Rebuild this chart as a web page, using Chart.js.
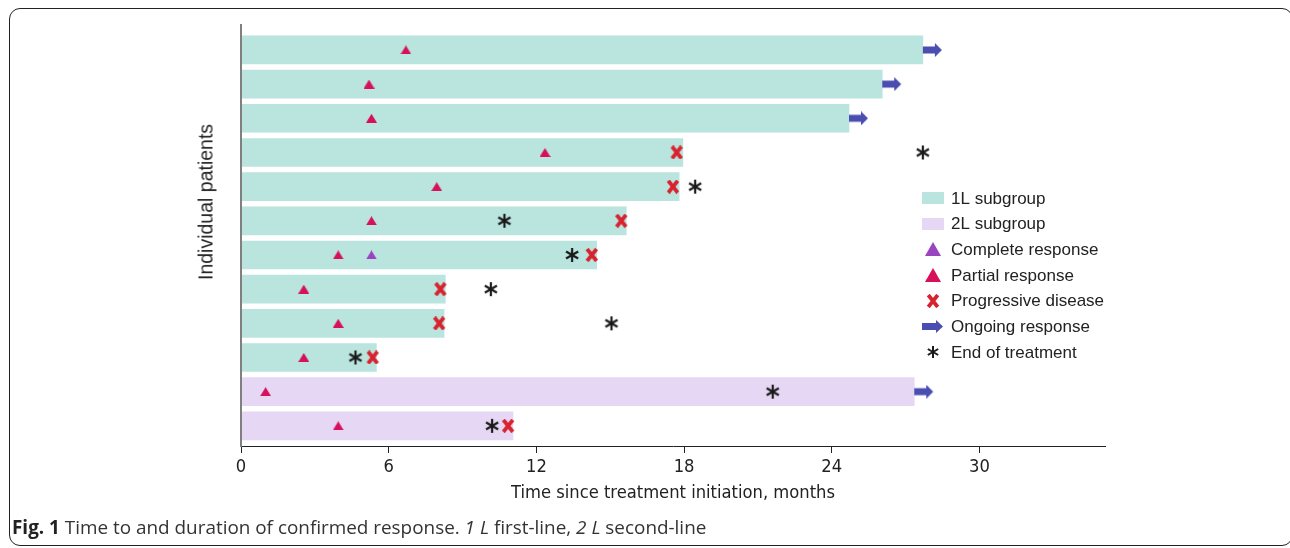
<!DOCTYPE html>
<html>
<head>
<meta charset="utf-8">
<title>Time to and duration of confirmed response</title>
<script src="https://cdn.jsdelivr.net/npm/chart.js@4.4.1/dist/chart.umd.min.js"></script>
<style>
  body { margin: 0; background: #fff; }
  #wrap { position: relative; width: 1290px; height: 548px; overflow: hidden; }
  #frame {
    position: absolute; left: 9px; top: 8px; width: 1282px; height: 536px;
    border: 1.5px solid #222; border-radius: 11px;
  }
  #chart-box { position: absolute; left: 0; top: 0; width: 1290px; height: 548px; }
  #ytitle {
    position: absolute; left: 206px; top: 202px;
    transform: translate(-50%, -50%) rotate(-90deg);
    font: 19.5px "Liberation Sans", Arial, sans-serif; color: #222; white-space: nowrap;
  }
  #caption {
    position: absolute; left: 12px; top: 514px;
    font: 18.9px "Open Sans", sans-serif; color: #333; white-space: nowrap;
  }
  #caption b { color: #222; }
</style>
</head>
<body>
<div id="wrap">
  <div id="frame"></div>
  <div id="chart-box"><canvas id="responseChart"></canvas></div>
  <div id="ytitle">Individual patients</div>
  <div id="caption"><b>Fig. 1</b> Time to and duration of confirmed response. <i>1 L</i> first-line, <i>2 L</i> second-line</div>
</div>
<script>
// Patients from top to bottom
const rows = [12, 11, 10, 9, 8, 7, 6, 5, 4, 3, 2, 1];
const subgroup = ["1L", "1L", "1L", "1L", "1L", "1L", "1L", "1L", "1L", "1L", "2L", "2L"];
const responseEnd = [27.7, 26.05, 24.7, 17.95, 17.8, 15.65, 14.45, 8.3, 8.25, 5.5, 27.35, 11.05];
const partialResponse = [6.7, 5.2, 5.3, 12.35, 7.95, 5.3, 3.95, 2.55, 3.95, 2.55, 1.0, 3.95];
const completeResponse = [null, null, null, null, null, null, 5.3, null, null, null, null, null];
const progressiveDisease = [null, null, null, 17.7, 17.55, 15.45, 14.25, 8.1, 8.05, 5.35, null, 10.85];
const ongoingResponse = [27.7, 26.05, 24.7, null, null, null, null, null, null, null, 27.35, null];
const endOfTreatment = [null, null, null, 27.7, 18.45, 10.7, 13.45, 10.15, 15.05, 4.65, 21.6, 10.2];
const xTicks = [0, 6, 12, 18, 24, 30];
const legendLabels = ["1L subgroup", "2L subgroup", "Complete response", "Partial response",
  "Progressive disease", "Ongoing response", "End of treatment"];

const COL_1L = "#bae4de";
const COL_2L = "#e6d7f5";
const COL_PR = "#d6105a";
const COL_CR = "#9a45bf";
const COL_PD = "#d8232f";
const COL_ARROW = "#4a4eb0";
const COL_EOT = "#1b1b1b";

// small canvases used as point styles
function icon(w, h, draw) {
  const c = document.createElement("canvas");
  c.width = w;
  c.height = h;
  draw(c.getContext("2d"), w, h);
  return c;
}
function triangle(color, w, h) {
  return icon(w, h, (g) => {
    g.fillStyle = color;
    g.beginPath();
    g.moveTo(w / 2, 0);
    g.lineTo(w, h);
    g.lineTo(0, h);
    g.closePath();
    g.fill();
  });
}
function cross(size, lw) {
  return icon(size + 2, size + 2, (g, w, h) => {
    g.strokeStyle = COL_PD;
    g.lineWidth = lw;
    g.lineCap = "butt";
    const a = (w - size) / 2 + lw / 3, b = w - a;
    g.beginPath();
    g.moveTo(a, 1); g.lineTo(b, h - 1);
    g.moveTo(b, 1); g.lineTo(a, h - 1);
    g.stroke();
  });
}
function asterisk(size, lw) {
  return icon(size + 2, size + 2, (g, w, h) => {
    g.strokeStyle = COL_EOT;
    g.lineWidth = lw;
    const r = size / 2;
    [90, 30, 150].forEach((deg) => {
      const a = deg * Math.PI / 180;
      g.beginPath();
      g.moveTo(w / 2 - Math.cos(a) * r, h / 2 - Math.sin(a) * r);
      g.lineTo(w / 2 + Math.cos(a) * r, h / 2 + Math.sin(a) * r);
      g.stroke();
    });
  });
}
// arrow starts at the centre of its canvas so it begins at the bar end
function arrow(len, hh, sh, offset) {
  return icon(offset + len + 1, hh, (g, w, h) => {
    const x0 = offset, head = 7;
    g.fillStyle = COL_ARROW;
    g.beginPath();
    g.moveTo(x0, h / 2 - sh / 2);
    g.lineTo(x0 + len - head, h / 2 - sh / 2);
    g.lineTo(x0 + len - head, 0);
    g.lineTo(x0 + len, h / 2);
    g.lineTo(x0 + len - head, h);
    g.lineTo(x0 + len - head, h / 2 + sh / 2);
    g.lineTo(x0, h / 2 + sh / 2);
    g.closePath();
    g.fill();
  });
}
function swatch(color) {
  return icon(22, 12, (g, w, h) => { g.fillStyle = color; g.fillRect(0, 0, w, h); });
}

const prIcon = triangle(COL_PR, 11, 9);
const crIcon = triangle(COL_CR, 11, 9);
const pdIcon = cross(12, 3.8);
const eotIcon = asterisk(14, 2.2);
const arrowIcon = arrow(19, 14, 7, 20);

const legendIcons = [swatch(COL_1L), swatch(COL_2L), triangle(COL_CR, 16, 14), triangle(COL_PR, 16, 14),
  cross(12, 3.8), arrow(21, 13, 7, 0), asterisk(12, 2)];

function points(arr) {
  return arr.map((v, i) => (v == null ? null : { x: v, y: rows[i] })).filter(Boolean);
}

const legendPlugin = {
  id: "patientLegend",
  afterDraw(chart) {
    const ctx = chart.ctx;
    ctx.save();
    ctx.font = "17px 'Liberation Sans', Arial, sans-serif";
    ctx.fillStyle = "#222";
    ctx.textBaseline = "middle";
    legendLabels.forEach((label, i) => {
      const y = 198 + i * 25.7;
      const ic = legendIcons[i];
      ctx.drawImage(ic, 933 - ic.width / 2, Math.round(y - ic.height / 2));
      ctx.fillText(label, 951, y + 1);
    });
    ctx.restore();
  },
};

const markerSets = [
  { label: "Partial response", data: partialResponse, style: prIcon },
  { label: "Complete response", data: completeResponse, style: crIcon },
  { label: "Progressive disease", data: progressiveDisease, style: pdIcon },
  { label: "Ongoing response", data: ongoingResponse, style: arrowIcon },
  { label: "End of treatment", data: endOfTreatment, style: eotIcon },
];

const tickFont = { family: "'Liberation Sans Narrow', 'DejaVu Sans Condensed', Arial, sans-serif", size: 18.2 };

new Chart(document.getElementById("responseChart"), {
  type: "bar",
  data: {
    datasets: [
      {
        type: "bar",
        label: "Duration of response",
        data: rows.map((r, i) => ({ x: [0, responseEnd[i]], y: r })),
        backgroundColor: subgroup.map((s) => (s === "1L" ? COL_1L : COL_2L)),
        borderWidth: 0,
        barThickness: 28,
        order: 10,
      },
      ...markerSets.map((m) => ({
        type: "scatter",
        label: m.label,
        data: points(m.data),
        pointStyle: m.style,
        pointRadius: 6,
        showLine: false,
        order: 1,
      })),
    ],
  },
  options: {
    indexAxis: "y",
    responsive: true,
    maintainAspectRatio: false,
    animation: false,
    events: [],
    layout: { padding: { left: 0, top: 25, right: 185, bottom: 42 } },
    plugins: {
      legend: { display: false },
      tooltip: { enabled: false },
    },
    scales: {
      x: {
        type: "linear",
        min: 0,
        max: 35.1,
        offset: false,
        afterBuildTicks: (s) => { s.ticks = xTicks.map((v) => ({ value: v })); },
        afterFit: (s) => { s.height = 60; },
        grid: { drawOnChartArea: false, drawTicks: true, tickLength: 7, color: "#222", offset: false },
        border: { color: "#222", width: 1 },
        ticks: { color: "#222", font: tickFont, padding: 3, maxRotation: 0 },
        title: {
          display: true,
          text: "Time since treatment initiation, months",
          color: "#222",
          font: tickFont,
          padding: { top: 0, bottom: 2 },
        },
      },
      y: {
        type: "linear",
        min: 0.41,
        max: 12.73,
        offset: false,
        afterBuildTicks: (s) => { s.ticks = rows.map((v) => ({ value: v })); },
        afterFit: (s) => { s.width = 241; },
        ticks: { display: false },
        grid: { display: false, offset: false },
        border: { display: true, color: "#808080", width: 2, z: 1 },
      },
    },
  },
  plugins: [legendPlugin],
});
</script>
</body>
</html>
